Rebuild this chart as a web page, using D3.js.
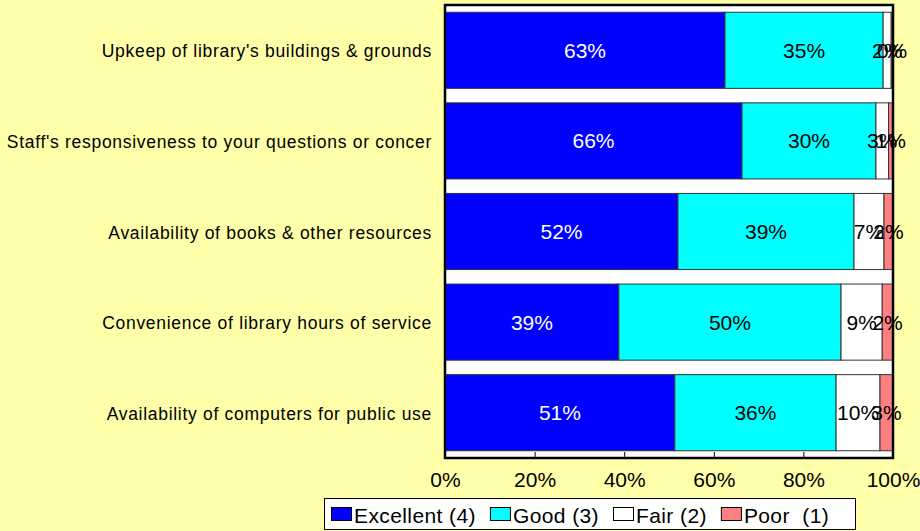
<!DOCTYPE html>
<html>
<head>
<meta charset="utf-8">
<script src="https://cdn.jsdelivr.net/npm/d3@7"></script>
<style>
  body { margin: 0; background: #FFFFAA; }
  svg { display: block; font-family: Arial, "Liberation Sans", sans-serif; }
</style>
</head>
<body>
<svg id="chart" width="920" height="531"></svg>
<script>
var categories = [
  "Upkeep of library's buildings & grounds",
  "Staff's responsiveness to your questions or concer",
  "Availability of books & other resources",
  "Convenience of library hours of service",
  "Availability of computers for public use"
];
var seriesNames = ["Excellent (4)", "Good (3)", "Fair (2)", "Poor  (1)"];
var excellent = [62.5, 66.3, 52.0, 38.8, 51.3];
var good = [35.3, 29.9, 39.3, 49.6, 36.0];
var fair = [1.8, 2.8, 6.7, 9.2, 9.8];
var poor = [0.4, 1.0, 2.0, 2.4, 2.9];
var ticks = [0, 20, 40, 60, 80, 100];

var colors = ["#0000FF", "#00FFFF", "#FFFFFF", "#FF8080"];
var labelColors = ["#FFFFFF", "#000000", "#000000", "#000000"];

var svg = d3.select("#chart");
var plot = { left: 445, top: 5, right: 893, bottom: 458 };

var x = d3.scaleLinear().domain([0, 100]).range([plot.left, plot.right]);
var y = d3.scaleBand().domain(categories).range([plot.top, plot.bottom]).paddingInner(0.16).paddingOuter(0.08);

var rows = categories.map(function (c, i) {
  return { cat: c, v: [excellent[i], good[i], fair[i], poor[i]] };
});

// plot area background
svg.append("rect")
  .attr("x", plot.left).attr("y", plot.top)
  .attr("width", plot.right - plot.left).attr("height", plot.bottom - plot.top)
  .attr("fill", "#FFFFFF");

// stacked bars
rows.forEach(function (r) {
  var acc = 0;
  r.v.forEach(function (val, k) {
    var x0 = x(acc), x1 = x(acc + val);
    svg.append("rect")
      .attr("x", x0).attr("y", y(r.cat))
      .attr("width", x1 - x0).attr("height", y.bandwidth())
      .attr("fill", colors[k])
      .attr("stroke", "#333333").attr("stroke-width", 1);
    acc += val;
  });
});

// value labels
rows.forEach(function (r) {
  var acc = 0;
  r.v.forEach(function (val, k) {
    svg.append("text")
      .attr("x", x(acc + val / 2)).attr("y", y(r.cat) + y.bandwidth() / 2)
      .attr("dy", "0.36em")
      .attr("text-anchor", "middle")
      .attr("font-size", 21)
      .attr("fill", labelColors[k])
      .text(Math.round(val) + "%");
    acc += val;
  });
});

// category labels
svg.selectAll(".cat").data(categories).enter().append("text")
  .attr("x", 432).attr("y", function (d) { return y(d) + y.bandwidth() / 2; })
  .attr("dy", "0.4em")
  .attr("text-anchor", "end")
  .attr("font-size", 17.5)
  .attr("letter-spacing", 0.7)
  .attr("fill", "#000")
  .text(function (d) { return d; });

// x axis
var xAxis = d3.axisBottom(x).tickValues(ticks).tickSize(-6).tickFormat(function (d) { return d + "%"; });
var g = svg.append("g").attr("transform", "translate(0," + plot.bottom + ")").call(xAxis);
g.select(".domain").remove();
g.selectAll(".tick line").attr("stroke", "#000");
g.selectAll(".tick text")
  .attr("font-size", 21)
  .attr("font-family", "Arial, 'Liberation Sans', sans-serif")
  .attr("fill", "#000").attr("dy", "0").attr("y", 29);

// frame
svg.append("rect")
  .attr("x", plot.left).attr("y", plot.top)
  .attr("width", plot.right - plot.left).attr("height", plot.bottom - plot.top)
  .attr("fill", "none").attr("stroke", "#000").attr("stroke-width", 2.5);

// legend
var lg = svg.append("g");
lg.append("rect").attr("x", 324.5).attr("y", 498.5).attr("width", 531).attr("height", 31)
  .attr("fill", "#FFFFFF").attr("stroke", "#000").attr("stroke-width", 1);
var cx = 331;
seriesNames.forEach(function (s, k) {
  lg.append("rect").attr("x", cx + 0.5).attr("y", 507.5).attr("width", 20).attr("height", 13)
    .attr("fill", colors[k]).attr("stroke", "#000").attr("stroke-width", 1);
  var t = lg.append("text").attr("x", cx + 23).attr("y", 523)
    .attr("font-size", 21).attr("letter-spacing", 0.4).attr("fill", "#000")
    .attr("xml:space", "preserve").style("white-space", "pre")
    .text(s);
  cx += 23 + t.node().getComputedTextLength() + 14;
});
</script>
</body>
</html>
